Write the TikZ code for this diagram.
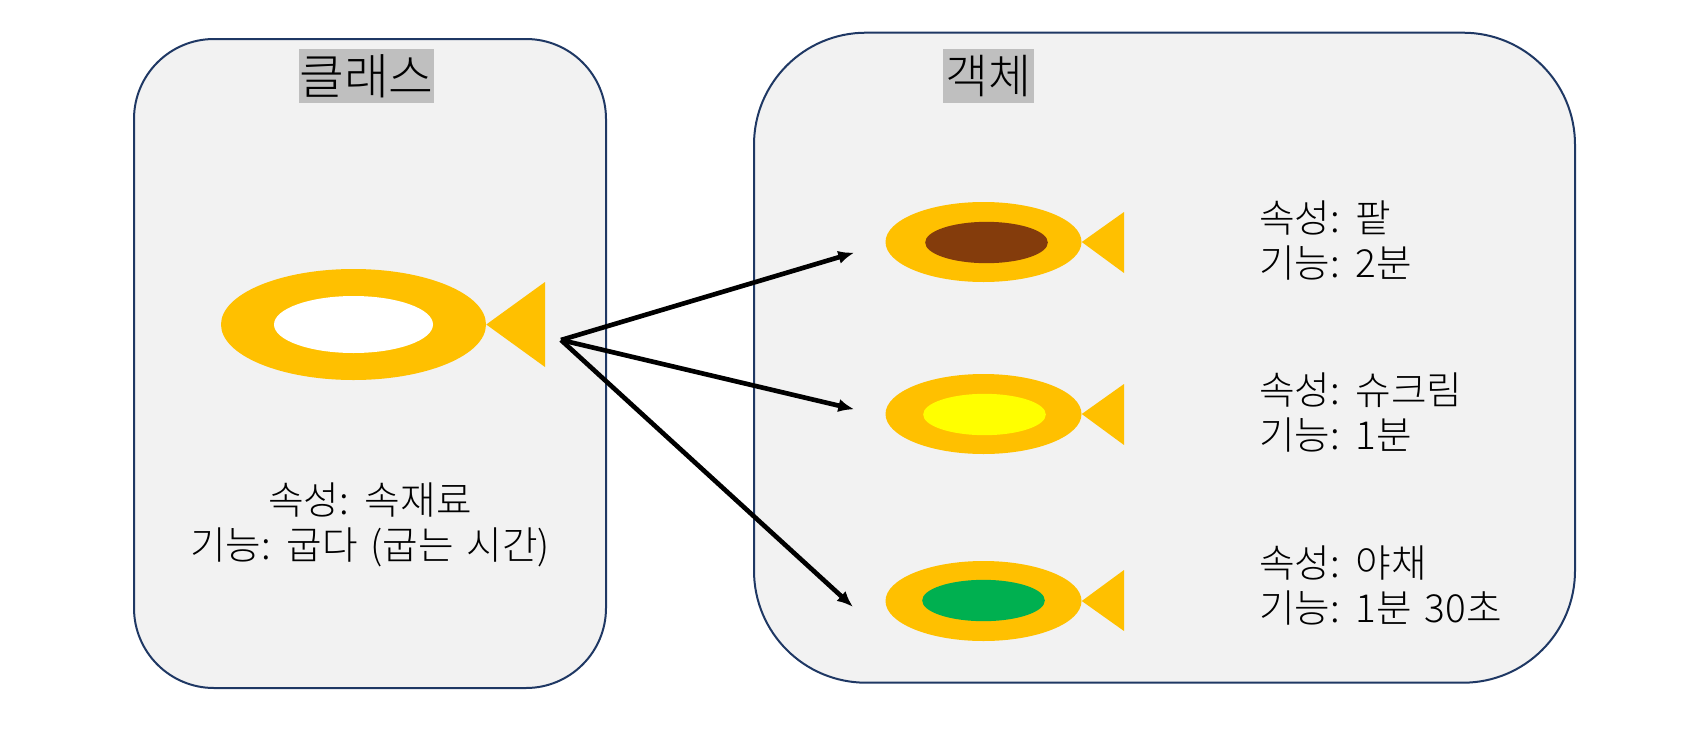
\documentclass[tikz,border=0pt]{standalone}
\usepackage{fontspec}
\newfontfamily\kr[WordSpace=1.5]{Noto Sans CJK KR Light}
\usetikzlibrary{shapes.geometric,arrows.meta}
\definecolor{boxline}{HTML}{1F3864}
\definecolor{boxfill}{HTML}{F2F2F2}
\definecolor{titlefill}{HTML}{BFBFBF}
\definecolor{fishgold}{HTML}{FFC000}
\definecolor{redbean}{HTML}{843C0C}
\definecolor{veg}{HTML}{00B050}
\definecolor{cream}{HTML}{FFFF00}
\tikzset{
  panel/.style={draw=boxline,fill=boxfill,line width=1.5pt,rectangle,inner sep=0pt},
  titlebox/.style={fill=titlefill,rectangle,inner sep=0pt,text=black},
  body/.style={ellipse,fill=fishgold,inner sep=0pt,minimum width=147pt,minimum height=60pt},
  filling/.style={ellipse,inner sep=0pt,minimum width=92pt,minimum height=31pt},
  tail/.style={fill=fishgold},
  info/.style={inner sep=0pt,font=\kr\fontsize{29}{33.75}\selectfont,text=black},
  link/.style={line width=3.5pt,-{Latex[length=12pt,width=10pt]},black,shorten >=-1pt}
}
\begin{document}
\begin{tikzpicture}[x=0.75pt,y=-0.75pt]
\useasboundingbox (0,0) rectangle (1702,739);
% panels
\node[panel,rounded corners=60pt,minimum width=354pt,minimum height=486.75pt] (classpanel) at (370,363.5) {};
\node[panel,rounded corners=84pt,minimum width=615.75pt,minimum height=487.5pt] (objpanel) at (1164.5,357.7) {};
% titles
\node[titlebox,minimum width=101.25pt,minimum height=40.5pt,font=\kr\fontsize{36.5}{40}\selectfont] (classtitle) at (366.5,76) {\raisebox{1.5pt}{클래스}};
\node[titlebox,minimum width=68.25pt,minimum height=40.5pt,font=\kr\fontsize{35}{40}\selectfont] (objtitle) at (988.5,76) {\raisebox{1.5pt}{객체}};
% class fish
\node[body,minimum width=198.75pt,minimum height=83.25pt] (bigfish) at (353.5,324.5) {};
\node[filling,fill=white,minimum width=119.25pt,minimum height=42.75pt] (bigfill) at (353.5,324.5) {};
\fill[tail] (bigfish.east) -- (545,282) -- (545,367) -- cycle;
% object fishes
\node[body] (fisha) at (983.5,242) {};
\node[filling,fill=redbean] (filla) at (986.5,242.5) {};
\fill[tail] (fisha.east) -- (1124,212) -- (1124,273) -- cycle;
\node[body] (fishb) at (983.5,414) {};
\node[filling,fill=cream] (fillb) at (984.5,414.5) {};
\fill[tail] (fishb.east) -- (1124,384) -- (1124,445) -- cycle;
\node[body] (fishc) at (983.5,601) {};
\node[filling,fill=veg] (fillc) at (983.5,600.5) {};
\fill[tail] (fishc.east) -- (1124,570) -- (1124,631) -- cycle;
% texts
\node[info,align=center] (classinfo) at (370,525) {속성: 속재료\\기능: 굽다 (굽는 시간)};
\node[info,align=left,anchor=west] (infoa) at (1259,241) {속성: 팥\\기능: 2분};
\node[info,align=left,anchor=west] (infob) at (1259,413) {속성: 슈크림\\기능: 1분};
\node[info,align=left,anchor=west] (infoc) at (1259,586) {속성: 야채\\기능: 1분 30초};
% connectors
\coordinate (src) at (561,340);
\coordinate (enda) at (853,253);
\coordinate (endb) at (853,409);
\coordinate (endc) at (852,606);
\draw[link] (src) -- (enda);
\draw[link] (src) -- (endb);
\draw[link] (src) -- (endc);
\end{tikzpicture}
\end{document}
